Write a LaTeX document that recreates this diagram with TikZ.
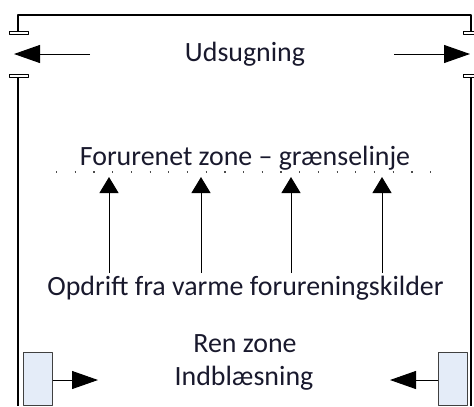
\documentclass[tikz,border=0pt]{standalone}
\usepackage{fontspec}
\setmainfont{Carlito}
\usetikzlibrary{arrows.meta}
\definecolor{inkblue}{RGB}{25,25,45}
\definecolor{inletfill}{RGB}{228,236,248}
\begin{document}
\begin{tikzpicture}[x=1bp,y=-1bp, line join=round,
  wall/.style={line width=2bp},
  flange/.style={draw,line width=1bp,fill=white},
  flow/.style={line width=1bp,-{Triangle[length=26bp,width=18bp]}},
  rise/.style={line width=1bp,-{Triangle[length=16bp,width=19bp]}},
  inlet/.style={draw=black!75,line width=1bp,fill=inletfill,minimum width=29bp,minimum height=53bp,inner sep=0pt},
  lbl/.style={font=\fontsize{28}{32}\selectfont,text=inkblue,inner sep=0pt,anchor=base}]
\useasboundingbox (0,0) rectangle (474,406);
% walls and ceiling
\draw[wall] (18,31)--(18,15)--(471,15)--(471,31);
\draw[wall] (18,77)--(18,406);
\draw[wall] (471,77)--(471,406);
\draw[flange] (9,31) rectangle (28,34.5);
\draw[flange] (9,74) rectangle (28,77.5);
\draw[flange] (463,31) rectangle (481,34.5);
\draw[flange] (463,74) rectangle (481,77.5);
% exhaust
\node[lbl] (udsug) at (245,61) {Udsugning};
\coordinate (outL0) at (90,54); \coordinate (outL) at (14,54);
\coordinate (outR0) at (394,54); \coordinate (outR) at (470,54);
\draw[flow] (outL0)--(outL);
\draw[flow] (outR0)--(outR);
% boundary
\node[lbl] (graense) at (245,165) {Forurenet zone – grænselinje};
\draw[black!70,line width=1.2bp,dash pattern=on 1.2bp off 17.5bp] (56,172)--(432,172);
\foreach \x [count=\i] in {109,201,291,382} {
  \coordinate (src\i) at (\x,273);
  \coordinate (top\i) at (\x,177);
  \draw[rise] (src\i)--(top\i);
}
\node[lbl] (opdrift) at (245.5,295) {Opdrift fra varme forureningskilder};
\node[lbl] (ren) at (245,352) {Ren zone};
\node[lbl] (indbl) at (244,385) {Indblæsning};
% supply
\node[inlet] (inL) at (37.5,378.5) {};
\node[inlet] (inR) at (452.5,378.5) {};
\coordinate (jetL) at (98,380); \coordinate (jetR) at (390,380);
\draw[flow] (inL.east |- jetL)--(jetL);
\draw[flow] (inR.west |- jetR)--(jetR);
\end{tikzpicture}
\end{document}
